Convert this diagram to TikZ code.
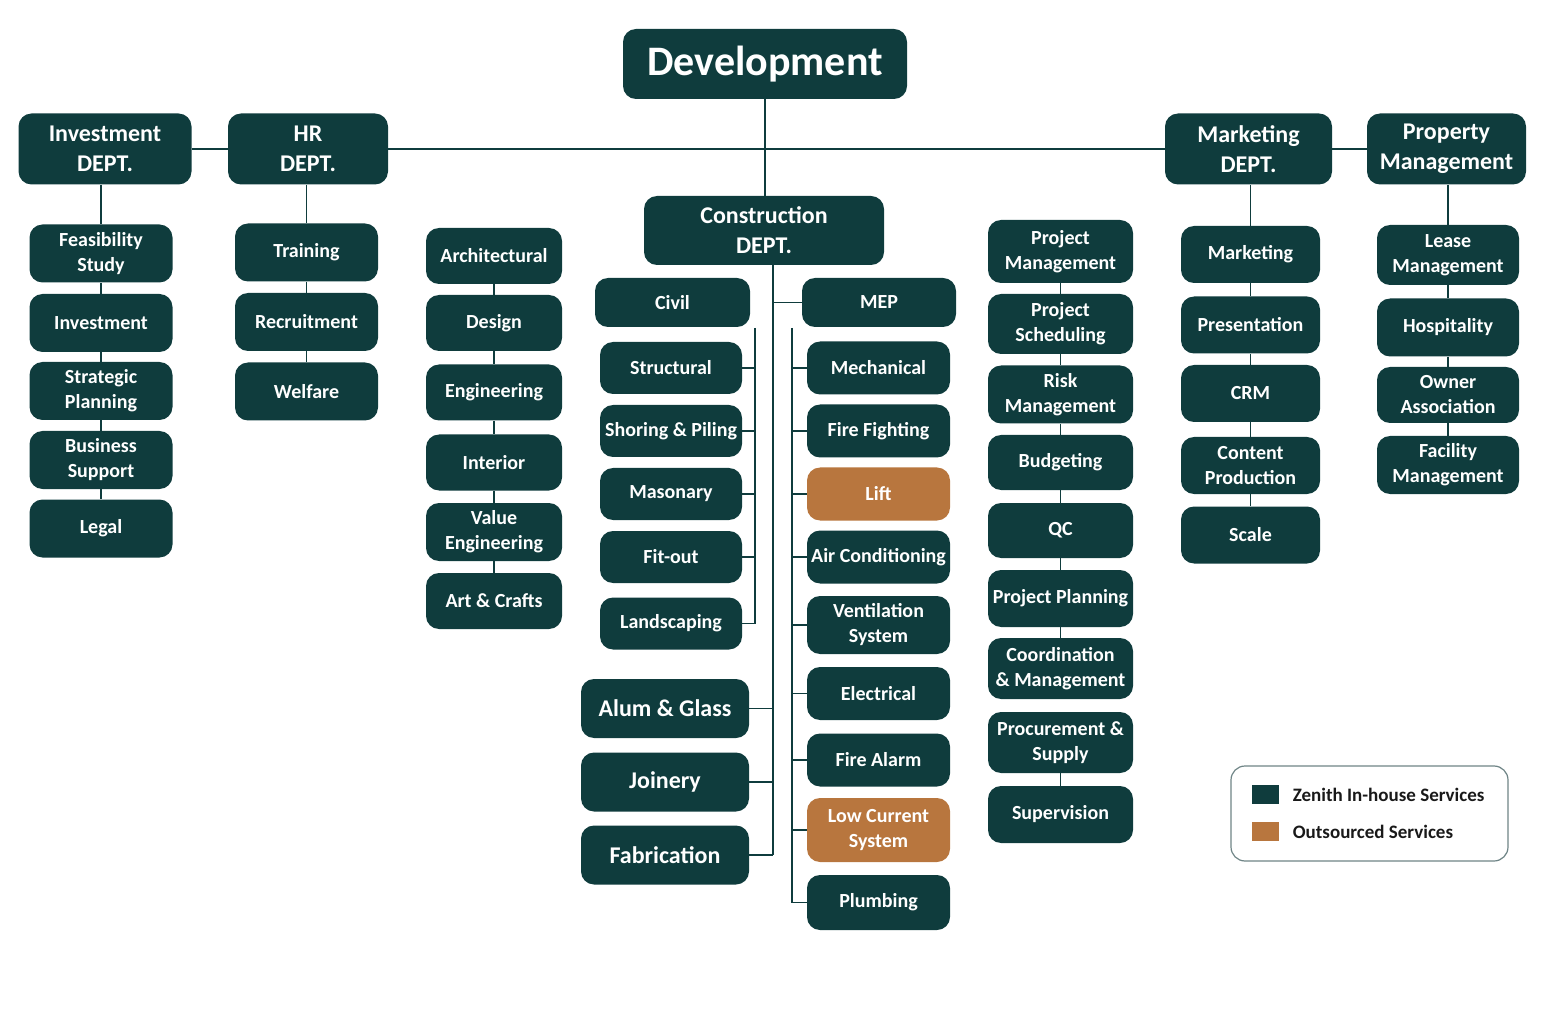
\documentclass[tikz,border=0pt]{standalone}
\usepackage{fontspec}
\setmainfont{Carlito}
\usetikzlibrary{positioning}
\definecolor{zteal}{HTML}{0F3C3D}
\definecolor{zcopper}{HTML}{B8763E}
\definecolor{zedge}{HTML}{6E8486}

\begin{document}
\begin{tikzpicture}[x=0.5pt,y=-0.5pt,
        unit/.style={rectangle, fill=zteal, rounded corners=6.5pt, text=white, align=center,
        inner sep=1pt, font=\bfseries\fontsize{10}{12.5}\selectfont, minimum height=28.5pt},
        dept/.style={unit, font=\bfseries\fontsize{12}{15}\selectfont, minimum height=35.5pt},
        outs/.style={fill=zcopper},
        invcol/.style={unit, minimum width=71.5pt, minimum height=29pt},
        archcol/.style={unit, minimum width=68pt, minimum height=28pt},
        civcol/.style={unit, minimum width=71pt, minimum height=26pt},
        mepcol/.style={unit, minimum width=71.5pt, minimum height=26.5pt},
        bigcol/.style={unit, font=\bfseries\fontsize{12}{15}\selectfont, minimum width=84pt, minimum height=29.5pt},
        pmcol/.style={unit, minimum width=72.5pt, minimum height=29pt},
        mktcol/.style={unit, minimum width=69.5pt, minimum height=28.5pt},
        prpcol/.style={unit, minimum width=71pt, minimum height=29pt},
        link/.style={draw=zteal, line width=0.9pt}]
    \useasboundingbox (0,0) rectangle (1558,1010);

    % top level
    \node [dept, minimum width=142pt, minimum height=35pt, font=\bfseries\fontsize{21}{24}\selectfont] (dev) at (765,64) {Development};
    \node [dept, minimum width=86.5pt] (invd) at (105,149) {Investment\\DEPT.};
    \node [dept, minimum width=80pt] (hrd) at (308,149) {HR\\DEPT.};
    \node [dept, minimum width=120pt, minimum height=34.5pt] (cond) at (764,230.5) {Construction\\DEPT.};
    \node [dept, minimum width=83.5pt] (mktd) at (1248.5,149) {Marketing\\DEPT.};
    \node [dept, minimum width=79.5pt] (prpd) at (1446.5,149) {Property\\Management};

    % investment
    \node [invcol] (feas) at (101,253.5) {Feasibility\\Study};
    \node [invcol] (invs) at (101,323) {Investment};
    \node [invcol] (strat) at (101,391) {Strategic\\Planning};
    \node [invcol] (bus) at (101,460) {Business\\Support};
    \node [invcol] (legal) at (101,528.5) {Legal};

    % hr
    \node [invcol] (trn) at (306.5,252.5) {Training};
    \node [invcol] (recr) at (306.5,322) {Recruitment};
    \node [invcol] (welf) at (306.5,391.5) {Welfare};

    % architectural
    \node [archcol] (arch) at (494,256) {Architectural};
    \node [archcol] (dsgn) at (494,323) {Design};
    \node [archcol] (engr) at (494,392.5) {Engineering};
    \node [archcol] (intr) at (494,462.5) {Interior};
    \node [archcol, minimum height=29pt] (valu) at (494,532) {Value\\Engineering};
    \node [archcol] (art) at (494,601) {Art \& Crafts};

    % construction
    \node [unit, minimum width=77.5pt, minimum height=24.5pt] (civil) at (672.5,302.5) {Civil};
    \node [unit, minimum width=77pt, minimum height=24.5pt] (mep) at (879,302.5) {MEP};
    \node [civcol] (struc) at (671,368) {Structural};
    \node [civcol] (shor) at (671,431) {Shoring \& Piling};
    \node [civcol] (mason) at (671,494) {Masonary};
    \node [civcol] (fitout) at (671,557) {Fit-out};
    \node [civcol] (land) at (671,623.5) {Landscaping};
    \node [mepcol] (mech) at (878.5,368) {Mechanical};
    \node [mepcol] (fire) at (878.5,431) {Fire Fighting};
    \node [mepcol, outs] (lift) at (878.5,494) {Lift};
    \node [mepcol] (airc) at (878.5,557) {Air Conditioning};
    \node [mepcol, minimum height=29pt] (vent) at (878.5,625) {Ventilation\\System};
    \node [mepcol] (elec) at (878.5,693.5) {Electrical};
    \node [mepcol] (alarm) at (878.5,760) {Fire Alarm};
    \node [mepcol, outs, minimum height=32pt] (lowc) at (878.5,830) {Low Current\\System};
    \node [mepcol, minimum height=27.5pt] (plumb) at (878.5,902.5) {Plumbing};
    \node [bigcol] (alum) at (665,708.5) {Alum \& Glass};
    \node [bigcol] (join) at (665,782) {Joinery};
    \node [bigcol] (fab) at (665,855) {Fabrication};

    % project management
    \node [pmcol, minimum height=31.5pt] (pm) at (1060.5,251.5) {Project\\Management};
    \node [pmcol, minimum height=30pt] (psch) at (1060.5,324) {Project\\Scheduling};
    \node [pmcol] (risk) at (1060.5,394.5) {Risk\\Management};
    \node [pmcol, minimum height=27.5pt] (budg) at (1060.5,462.5) {Budgeting};
    \node [pmcol, minimum height=27.5pt] (qc) at (1060.5,530.5) {QC};
    \node [pmcol, minimum height=28.5pt] (pplan) at (1060.5,598.5) {Project Planning};
    \node [pmcol, minimum height=30.5pt] (coord) at (1060.5,668.5) {Coordination\\\& Management};
    \node [pmcol, minimum height=30.5pt] (proc) at (1060.5,742.5) {Procurement \&\\Supply};
    \node [pmcol, minimum height=28.5pt] (supv) at (1060.5,814.5) {Supervision};

    % marketing
    \node [mktcol] (mkt) at (1250.5,254.5) {Marketing};
    \node [mktcol] (pres) at (1250.5,325) {Presentation};
    \node [mktcol] (crm) at (1250.5,393.5) {CRM};
    \node [mktcol] (cont) at (1250.5,465.5) {Content\\Production};
    \node [mktcol] (scale) at (1250.5,535) {Scale};

    % property
    \node [prpcol, minimum height=30pt] (lease) at (1448,255) {Lease\\Management};
    \node [prpcol] (hosp) at (1448,327.5) {Hospitality};
    \node [prpcol, minimum height=28pt] (owner) at (1448,395) {Owner\\Association};
    \node [prpcol] (facil) at (1448,465) {Facility\\Management};

    % legend
    \node [draw=zedge, line width=0.6pt, rounded corners=7pt, minimum width=138.5pt, minimum height=47.5pt] (leg) at (1369.5,813.5) {};
    \node [fill=zteal, inner sep=0pt, minimum width=13.5pt, minimum height=9.5pt] (kin) at (1265.5,794.5) {};
    \node [fill=zcopper, inner sep=0pt, minimum width=13.5pt, minimum height=9.5pt] (kout) at (1265.5,831.5) {};
    \node [right=6.5pt of kin, inner sep=0pt, font=\bfseries\fontsize{9.5}{11}\selectfont, text=black!90] (lin) {Zenith In-house Services};
    \node [right=6.5pt of kout, inner sep=0pt, font=\bfseries\fontsize{9.5}{11}\selectfont, text=black!90] (lout) {Outsourced Services};

    % connectors
    \draw [link] (dev.south) -- (dev.south |- cond.north);
    \draw [link] (invd.east) -- (hrd.west);
    \draw [link] (hrd.east) -- (mktd.west);
    \draw [link] (mktd.east) -- (prpd.west);
    \draw [link] (feas.north |- invd.south) -- (feas.north);
    \draw [link] (trn.north |- hrd.south) -- (trn.north);
    \draw [link] (mkt.north |- mktd.south) -- (mkt.north);
    \draw [link] (lease.north |- prpd.south) -- (lease.north);
    \foreach \a/\b in {feas/invs, invs/strat, strat/bus, bus/legal, trn/recr, recr/welf,
            arch/dsgn, dsgn/engr, engr/intr, intr/valu, valu/art,
            pm/psch, psch/risk, risk/budg, budg/qc, qc/pplan, pplan/coord, proc/supv,
            mkt/pres, pres/crm, crm/cont, cont/scale, lease/hosp, hosp/owner, owner/facil}
        \draw [link] (\a) -- (\b);

    \coordinate (spine) at (773,0);
    \draw [link] (cond.south -| spine) -- (fab.east -| spine);
    \draw [link] (mep.west -| spine) -- (mep.west);
    \foreach \n in {alum, join, fab}
        \draw [link] (\n.east) -- (\n.east -| spine);

    \coordinate (cvl) at (755,328);
    \draw [link] (cvl) -- (cvl |- land.east);
    \foreach \n in {struc, shor, mason, fitout, land}
        \draw [link] (\n.east) -- (\n.east -| cvl);

    \coordinate (mpl) at (792,328);
    \draw [link] (mpl) -- (mpl |- plumb.west);
    \foreach \n in {mech, fire, lift, airc, vent, elec, alarm, lowc, plumb}
        \draw [link] (\n.west) -- (\n.west -| mpl);
\end{tikzpicture}
\end{document}
